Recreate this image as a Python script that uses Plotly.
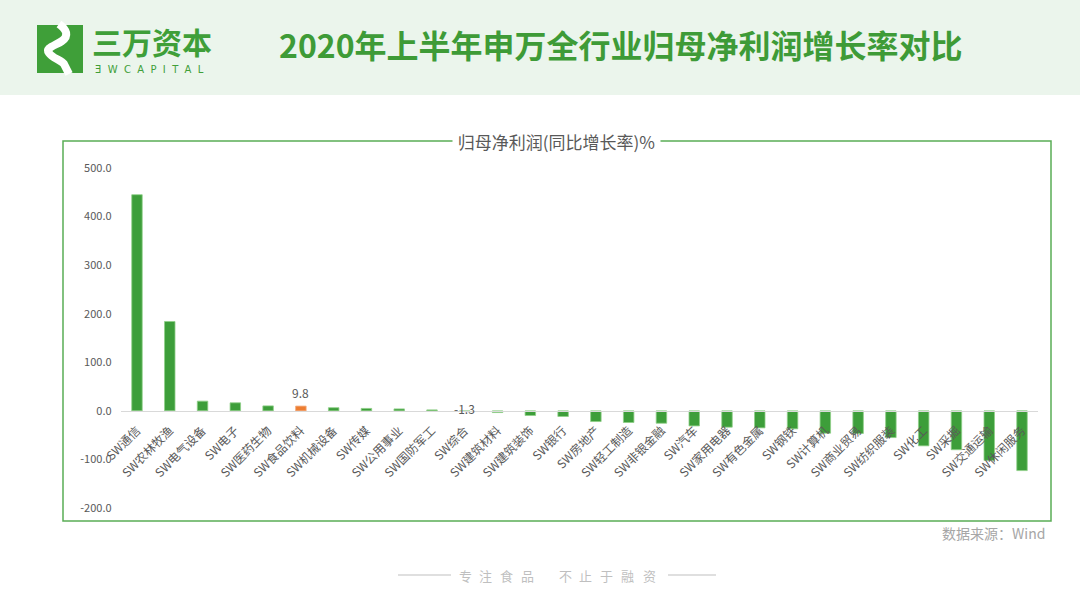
import plotly.graph_objects as go

W, H = 1080, 605

categories = ["SW通信", "SW农林牧渔", "SW电气设备", "SW电子", "SW医药生物", "SW食品饮料",
              "SW机械设备", "SW传媒", "SW公用事业", "SW国防军工", "SW综合", "SW建筑材料",
              "SW建筑装饰", "SW银行", "SW房地产", "SW轻工制造", "SW非银金融", "SW汽车",
              "SW家用电器", "SW有色金属", "SW钢铁", "SW计算机", "SW商业贸易", "SW纺织服装",
              "SW化工", "SW采掘", "SW交通运输", "SW休闲服务"]
growth = [445.0, 184.0, 20.0, 16.5, 10.2, 9.8,
          6.5, 5.0, 4.0, 2.0, -1.3, -3.5,
          -9.6, -11.6, -22.0, -24.0, -25.5, -31.0,
          -33.6, -35.0, -37.0, -46.0, -46.6, -55.0,
          -72.0, -80.0, -102.0, -123.0]
highlight = "SW食品饮料"
label_values = {"SW食品饮料": 9.8, "SW综合": -1.3}
y_ticks = [-200, -100, 0, 100, 200, 300, 400, 500]

GREEN = "#3d9e3a"
ORANGE = "#ed7d31"
GRAY = "#595959"
FONT = "Noto Sans CJK SC"


def px(x, y):
    return x / W, 1 - y / H


# plot area in pixels
PL, PR, PT, PB = 120.6, 1038.4, 168, 508
ydom = [1 - PB / H, 1 - PT / H]
xdom = [PL / W, PR / W]
ymin, ymax = -200, 500
zero_pos = ydom[0] + (0 - ymin) / (ymax - ymin) * (ydom[1] - ydom[0])

colors = [ORANGE if c == highlight else GREEN for c in categories]
line_colors = ["#f4a878" if c == highlight else "#8fcf88" for c in categories]

fig = go.Figure()
fig.add_trace(go.Bar(
    x=categories, y=growth,
    marker=dict(color=colors, line=dict(color=line_colors, width=0.8)),
    hoverinfo="x+y",
))

shapes = []
annotations = []

# header band
x0, y0 = px(0, 0)
x1, y1 = px(W, 95)
shapes.append(dict(type="rect", xref="paper", yref="paper", x0=x0, y0=y1, x1=x1, y1=y0,
                   fillcolor="#ebf5ec", line=dict(width=0), layer="below"))

# logo icon
a = px(37, 25); b = px(83, 73)
shapes.append(dict(type="rect", xref="paper", yref="paper", x0=a[0], y0=b[1], x1=b[0], y1=a[1],
                   fillcolor="#3f9f39", line=dict(width=0)))


def path(points_cmd):
    out = []
    for cmd, pts in points_cmd:
        coords = []
        for (x, y) in pts:
            u, v = px(x, y)
            coords.append(f"{u:.5f},{v:.5f}")
        out.append(cmd + " " + " ".join(coords))
    return " ".join(out)


rib = path([("M", [(59, 24)]),
            ("C", [(67, 30), (69, 36), (62, 41)]),
            ("C", [(54, 46), (45, 48), (49, 53)]),
            ("C", [(52, 58), (61, 60), (64, 64)]),
            ("L", [(69, 74)])])
shapes.append(dict(type="path", xref="paper", yref="paper", path=rib,
                   line=dict(color="white", width=8)))

annotations.append(dict(xref="paper", yref="paper", x=px(90, 0)[0], y=px(0, 41)[1],
                        text="<b>三万资本</b>", showarrow=False, xanchor="left", yanchor="middle",
                        font=dict(family=FONT, size=30, color="#3f9f39")))
annotations.append(dict(xref="paper", yref="paper", x=px(93, 0)[0], y=px(0, 69.5)[1],
                        text="&nbsp;&nbsp;".join(list("ƎWCAPITAL")), showarrow=False,
                        xanchor="left", yanchor="middle",
                        font=dict(family="DejaVu Sans", size=10, color="#3f9f39")))

# main title
annotations.append(dict(xref="paper", yref="paper", x=px(621, 0)[0], y=px(0, 44)[1],
                        text="<b>2020年上半年申万全行业归母净利润增长率对比</b>", showarrow=False,
                        xanchor="center", yanchor="middle",
                        font=dict(family=FONT, size=32, color="#3e9b37")))

# chart box
a = px(63, 141); b = px(1051, 521)
shapes.append(dict(type="rect", xref="paper", yref="paper", x0=a[0], y0=b[1], x1=b[0], y1=a[1],
                   line=dict(color="#5aad55", width=1.5), fillcolor="rgba(0,0,0,0)"))

annotations.append(dict(xref="paper", yref="paper", x=px(556, 0)[0], y=px(0, 141)[1],
                        text=" 归母净利润(同比增长率)% ", showarrow=False,
                        xanchor="center", yanchor="middle", bgcolor="white",
                        font=dict(family=FONT, size=17, color=GRAY)))

# data labels
for cat, val in label_values.items():
    if val >= 0:
        annotations.append(dict(x=cat, y=val, xref="x", yref="y", text=f"{val:.1f}",
                                showarrow=False, yanchor="bottom", yshift=3,
                                font=dict(family=FONT, size=12, color=GRAY)))
    else:
        annotations.append(dict(x=cat, y=0, xref="x", yref="y", text=f"{val:.1f}",
                                showarrow=False, yanchor="middle", yshift=2,
                                font=dict(family=FONT, size=12, color=GRAY)))

# source
annotations.append(dict(xref="paper", yref="paper", x=px(1047, 0)[0], y=px(0, 533)[1],
                        text="数据来源：Wind", showarrow=False, xanchor="right", yanchor="middle",
                        font=dict(family=FONT, size=14, color="#a6a6a6")))

# slogan, letter-spaced
slogan_chars = list("专注食品不止于融资")
slogan_x = [465, 485.5, 506, 527, 565, 585.5, 606, 627, 649]
for ch, sx in zip(slogan_chars, slogan_x):
    annotations.append(dict(xref="paper", yref="paper", x=px(sx, 0)[0], y=px(0, 575)[1],
                            text=ch, showarrow=False, xanchor="center", yanchor="middle",
                            font=dict(family=FONT, size=13, color="#bfbfbf")))
for (lx0, lx1) in [(398, 451), (668, 716)]:
    a = px(lx0, 575); b = px(lx1, 575)
    shapes.append(dict(type="line", xref="paper", yref="paper", x0=a[0], y0=a[1], x1=b[0], y1=b[1],
                       line=dict(color="#bfbfbf", width=1)))

fig.update_layout(
    width=W, height=H,
    margin=dict(l=0, r=0, t=0, b=0),
    paper_bgcolor="white", plot_bgcolor="white",
    showlegend=False,
    bargap=0.68,
    shapes=shapes,
    annotations=annotations,
    font=dict(family=FONT, color=GRAY),
    xaxis=dict(domain=xdom, anchor="free", position=zero_pos, range=[-0.5, len(categories) - 0.5],
               showline=True, linecolor="#d9d9d9", linewidth=1, showgrid=False, zeroline=False,
               ticks="", tickangle=-45, ticklabelstandoff=7,
               tickfont=dict(family=FONT, size=12, color=GRAY), automargin=False),
    yaxis=dict(domain=ydom, range=[ymin, ymax], tickvals=y_ticks,
               ticktext=[f"{v:.1f}" for v in y_ticks], showgrid=False, zeroline=False,
               showline=False, ticks="", ticklabelstandoff=8,
               tickfont=dict(family=FONT, size=11, color=GRAY), automargin=False),
)

fig.write_html("out.html", config={"displayModeBar": False},
               post_script="document.body.style.margin='0';")
